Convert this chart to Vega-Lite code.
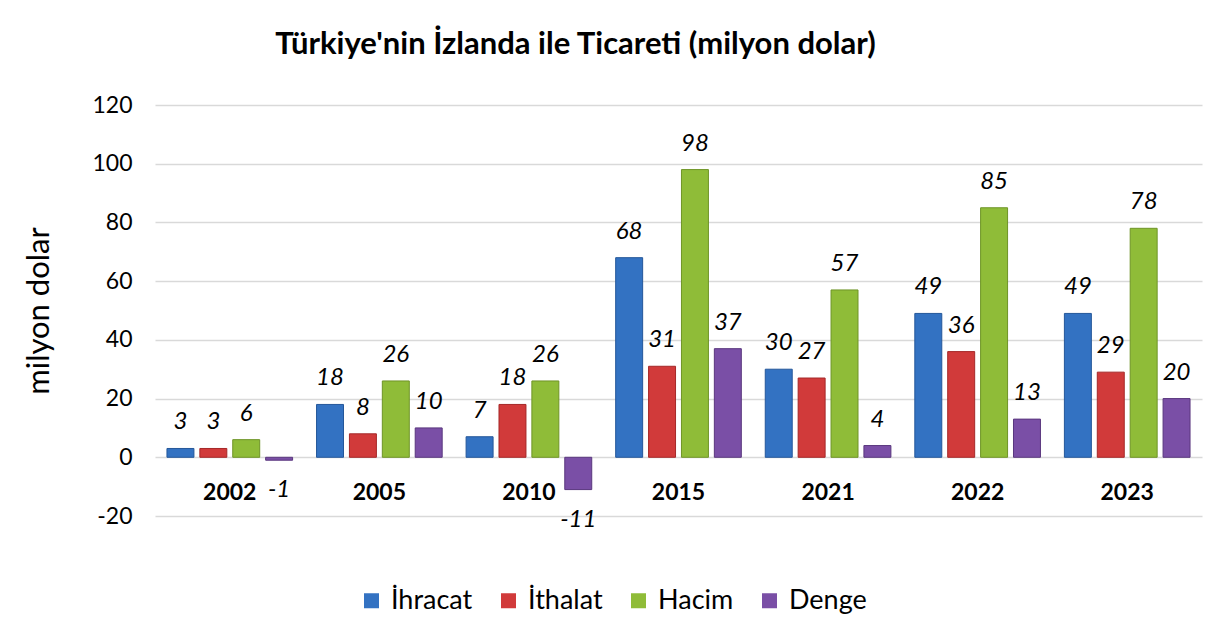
{
  "$schema": "https://vega.github.io/schema/vega-lite/v6.json",
  "width": 1047,
  "height": 411,
  "autosize": {"type": "none"},
  "padding": {"left": 155, "top": 105, "right": 14, "bottom": 124},
  "background": "white",
  "title": {
    "text": "Türkiye'nin İzlanda ile Ticareti (milyon dolar)",
    "font": "Lato",
    "fontSize": 31,
    "fontWeight": "bold",
    "color": "#000000",
    "anchor": "middle",
    "frame": "group",
    "dx": -103,
    "offset": 33
  },
  "data": {
    "values": [
      {"year": "2002", "series": "İhracat", "value": 3},
      {"year": "2002", "series": "İthalat", "value": 3},
      {"year": "2002", "series": "Hacim", "value": 6},
      {"year": "2002", "series": "Denge", "value": -1},
      {"year": "2005", "series": "İhracat", "value": 18},
      {"year": "2005", "series": "İthalat", "value": 8},
      {"year": "2005", "series": "Hacim", "value": 26},
      {"year": "2005", "series": "Denge", "value": 10},
      {"year": "2010", "series": "İhracat", "value": 7},
      {"year": "2010", "series": "İthalat", "value": 18},
      {"year": "2010", "series": "Hacim", "value": 26},
      {"year": "2010", "series": "Denge", "value": -11},
      {"year": "2015", "series": "İhracat", "value": 68},
      {"year": "2015", "series": "İthalat", "value": 31},
      {"year": "2015", "series": "Hacim", "value": 98},
      {"year": "2015", "series": "Denge", "value": 37},
      {"year": "2021", "series": "İhracat", "value": 30},
      {"year": "2021", "series": "İthalat", "value": 27},
      {"year": "2021", "series": "Hacim", "value": 57},
      {"year": "2021", "series": "Denge", "value": 4},
      {"year": "2022", "series": "İhracat", "value": 49},
      {"year": "2022", "series": "İthalat", "value": 36},
      {"year": "2022", "series": "Hacim", "value": 85},
      {"year": "2022", "series": "Denge", "value": 13},
      {"year": "2023", "series": "İhracat", "value": 49},
      {"year": "2023", "series": "İthalat", "value": 29},
      {"year": "2023", "series": "Hacim", "value": 78},
      {"year": "2023", "series": "Denge", "value": 20}
    ]
  },
  "encoding": {
    "x": {
      "field": "year",
      "type": "nominal",
      "sort": null,
      "scale": {"paddingInner": 0.16, "paddingOuter": 0.08},
      "axis": null
    },
    "y": {
      "field": "value",
      "type": "quantitative",
      "scale": {"domain": [-20, 120], "nice": false, "zero": false},
      "axis": {
        "values": [-20, 0, 20, 40, 60, 80, 100, 120],
        "labelExpr": "'' + datum.value",
        "title": "milyon dolar",
        "titleFont": "Lato",
        "titleFontSize": 31,
        "titleFontWeight": "normal",
        "titleColor": "#000000",
        "titlePadding": 36,
        "labelFont": "Lato",
        "labelFontSize": 23,
        "labelColor": "#000000",
        "labelPadding": 23,
        "ticks": false,
        "domain": false,
        "grid": true,
        "gridColor": "#d9d9d9",
        "gridWidth": 1.5
      }
    }
  },
  "layer": [
    {
      "mark": {"type": "bar", "strokeWidth": 1},
      "encoding": {
        "xOffset": {
          "field": "series",
          "type": "nominal",
          "sort": ["İhracat", "İthalat", "Hacim", "Denge"],
          "scale": {"paddingInner": 0.18, "paddingOuter": 0}
        },
        "color": {
          "field": "series",
          "type": "nominal",
          "sort": ["İhracat", "İthalat", "Hacim", "Denge"],
          "scale": {
            "domain": ["İhracat", "İthalat", "Hacim", "Denge"],
            "range": ["#3372C2", "#D13A3A", "#8FBC38", "#7A4FA6"]
          },
          "legend": {
            "title": null,
            "orient": "none",
            "direction": "horizontal",
            "legendX": 203,
            "legendY": 482,
            "symbolType": "square",
            "symbolSize": 225,
            "symbolStrokeWidth": 0,
            "labelFont": "Lato",
            "labelFontSize": 27,
            "labelColor": "#000000",
            "labelOffset": 6,
            "columnPadding": 22,
            "symbolOpacity": 1
          }
        },
        "stroke": {
          "field": "series",
          "type": "nominal",
          "scale": {
            "domain": ["İhracat", "İthalat", "Hacim", "Denge"],
            "range": ["#24579A", "#A52828", "#6E9426", "#5A377E"]
          },
          "legend": null
        },
        "y2": {"datum": 0}
      }
    },
    {
      "transform": [{"filter": "datum.value >= 0"}],
      "mark": {"type": "text", "baseline": "bottom", "dy": -14, "font": "Lato", "fontSize": 24, "fontStyle": "italic", "color": "#000000"},
      "encoding": {
        "xOffset": {
          "field": "series",
          "type": "nominal",
          "sort": ["İhracat", "İthalat", "Hacim", "Denge"],
          "scale": {"paddingInner": 0.18, "paddingOuter": 0}
        },
        "text": {"field": "value", "type": "nominal"}
      }
    },
    {
      "transform": [{"filter": "datum.value < 0"}],
      "mark": {"type": "text", "baseline": "top", "dy": 18, "font": "Lato", "fontSize": 24, "fontStyle": "italic", "color": "#000000"},
      "encoding": {
        "xOffset": {
          "field": "series",
          "type": "nominal",
          "sort": ["İhracat", "İthalat", "Hacim", "Denge"],
          "scale": {"paddingInner": 0.18, "paddingOuter": 0}
        },
        "text": {"field": "value", "type": "nominal"}
      }
    },
    {
      "transform": [{"filter": "datum.series == 'İhracat'"}],
      "mark": {"type": "text", "baseline": "middle", "align": "center", "font": "Lato", "fontSize": 23, "fontWeight": "bold", "color": "#000000"},
      "encoding": {
        "x": {"field": "year", "type": "nominal", "sort": null, "bandPosition": 0.5},
        "y": {"datum": -12},
        "text": {"field": "year", "type": "nominal"}
      }
    }
  ],
  "config": {"view": {"stroke": null}}
}
